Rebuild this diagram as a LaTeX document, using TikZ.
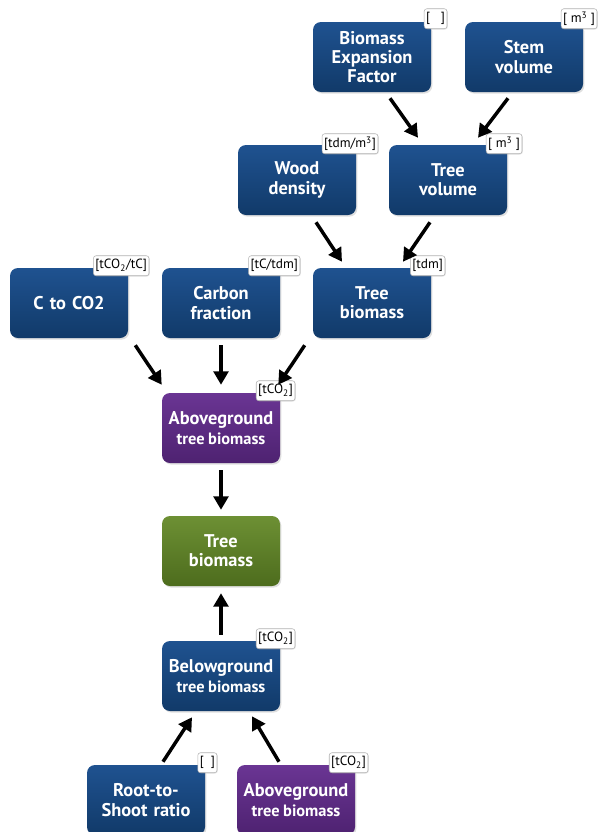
\documentclass[tikz,border=0pt]{standalone}
\usepackage{fontspec}
\setmainfont{PT Sans}
\usetikzlibrary{calc,arrows.meta,shadows}
\definecolor{boxblueT}{HTML}{1F5290}
\definecolor{boxblueB}{HTML}{113A69}
\definecolor{boxpurpleT}{HTML}{6A3593}
\definecolor{boxpurpleB}{HTML}{4E2271}
\definecolor{boxgreenT}{HTML}{6D9034}
\definecolor{boxgreenB}{HTML}{4D6C1D}
\begin{document}
\begin{tikzpicture}[x=0.75pt, y=-0.75pt,
	box/.style={rounded corners=6pt, minimum width=88.5pt, minimum height=52.5pt, text width=84pt, align=center, text=white, inner sep=0pt, font=\fontsize{13.8}{14.5}\selectfont\bfseries, drop shadow={opacity=0.25, shadow xshift=1pt, shadow yshift=-1.2pt}},
	bluebox/.style={box, top color=boxblueT, bottom color=boxblueB},
	purplebox/.style={box, top color=boxpurpleT, bottom color=boxpurpleB},
	greenbox/.style={box, top color=boxgreenT, bottom color=boxgreenB},
	unit/.style={draw=gray!60, fill=white, rounded corners=2pt, inner xsep=1.5pt, inner ysep=1pt, minimum height=15pt, font=\fontsize{10}{11}\selectfont, anchor=east, drop shadow={opacity=0.2, shadow xshift=0.6pt, shadow yshift=-0.6pt}},
	flow/.style={line width=2.6pt, -{Triangle[length=10pt,width=11pt]}}]
	\clip (0,0) rectangle (598,832);
	\path[fill=white] (0,0) rectangle (598,832);
	\node[bluebox] (bef) at (372,57) {Biomass\\Expansion\\Factor};
	\node[bluebox] (stem) at (524,57) {Stem\\volume};
	\node[bluebox] (wd) at (297,180) {Wood\\density};
	\node[bluebox] (tv) at (448,180) {Tree\\volume};
	\node[bluebox] (c2) at (69,303) {C to CO2};
	\node[bluebox] (cf) at (221,303) {Carbon\\fraction};
	\node[bluebox] (tb) at (372,303) {Tree\\biomass};
	\node[purplebox] (agb) at (221,428) {Aboveground\\{\fontsize{12.3}{13}\selectfont tree\hspace{0.22em}biomass}};
	\node[greenbox] (tbg) at (221,551) {Tree\\biomass};
	\node[bluebox] (bgb) at (221,676) {Belowground\\{\fontsize{12.3}{13}\selectfont tree\hspace{0.22em}biomass}};
	\node[bluebox] (rts) at (146,800) {Root-to-\\Shoot ratio};
	\node[purplebox] (agb2) at (296,800) {Aboveground\\{\fontsize{12.3}{13}\selectfont tree\hspace{0.22em}biomass}};
	\node[unit] (bef-u) at ($(bef.north east)+(16,-3)$) {[\ \ \ ]};
	\node[unit] (stem-u) at ($(stem.north east)+(14,-3)$) {[ m\textsuperscript{3} ]};
	\node[unit] (wd-u) at ($(wd.north east)+(22,-1)$) {[tdm/m\textsuperscript{3}]};
	\node[unit] (tv-u) at ($(tv.north east)+(15,-1)$) {[ m\textsuperscript{3} ]};
	\node[unit] (c2-u) at ($(c2.north east)+(21,-2)$) {[tCO\textsubscript{2}/tC]};
	\node[unit] (cf-u) at ($(cf.north east)+(20,-2)$) {[tC/tdm]};
	\node[unit] (tb-u) at ($(tb.north east)+(14,-2)$) {[tdm]};
	\node[unit] (agb-u) at ($(agb.north east)+(15,-2)$) {[tCO\textsubscript{2}]};
	\node[unit] (bgb-u) at ($(bgb.north east)+(15,-2)$) {[tCO\textsubscript{2}]};
	\node[unit] (rts-u) at ($(rts.north east)+(12,-2)$) {[\ \ ]};
	\node[unit] (agb2-u) at ($(agb2.north east)+(13,-2)$) {[tCO\textsubscript{2}]};
	\draw[flow] ($(bef.south)+(18,6)$) -- ($(tv.north)+(-30,-7)$);
	\draw[flow] ($(stem.south)+(-16,6)$) -- ($(tv.north)+(30,-7)$);
	\draw[flow] ($(wd.south)+(19,7)$) -- ($(tb.north)+(-30,-6)$);
	\draw[flow] ($(tv.south)+(-18,7)$) -- ($(tb.north)+(31,-6)$);
	\draw[flow] ($(c2.south east)+(7,7)$) -- ($(agb.north west)+(0,-8)$);
	\draw[flow] ($(cf.south)+(0,7)$) -- ($(agb.north)+(0,-8)$);
	\draw[flow] ($(tb.south west)+(-8,7)$) -- ($(agb.north east)+(-2,-8)$);
	\draw[flow] ($(agb.south)+(0,7)$) -- ($(tbg.north)+(0,-6)$);
	\draw[flow] ($(bgb.north)+(0,-6)$) -- ($(tbg.south)+(0,7)$);
	\draw[flow] ($(rts.north)+(17,-3)$) -- ($(bgb.south)+(-29,6)$);
	\draw[flow] ($(agb2.north)+(-17,-3)$) -- ($(bgb.south)+(31,5)$);
\end{tikzpicture}
\end{document}
